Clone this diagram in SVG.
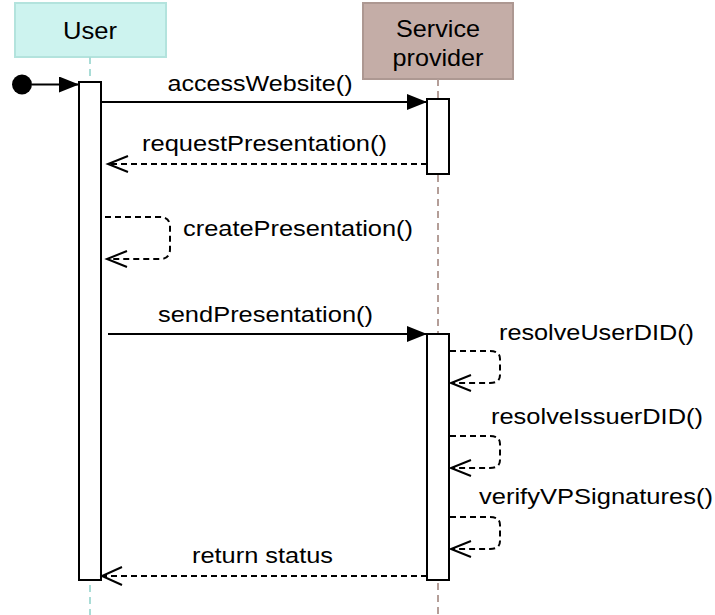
<svg xmlns="http://www.w3.org/2000/svg" width="715" height="615" viewBox="0 0 715 615">
<style>
text{font-family:"Liberation Sans",Arial,sans-serif;fill:#000}
.hdr{font-size:24px;text-anchor:middle}
.lbl{font-size:22px}
.mid{text-anchor:middle}
.bar{fill:#fff;stroke:#000;stroke-width:2}
.ln{fill:none;stroke:#000;stroke-width:2}
.dash{fill:none;stroke:#000;stroke-width:2;stroke-dasharray:6 4}
.open{fill:none;stroke:#000;stroke-width:2}
</style>
<defs>
<marker id="filled" viewBox="0 0 20 16" refX="20" refY="8" markerWidth="20" markerHeight="16" markerUnits="userSpaceOnUse" orient="auto">
<path d="M0,0 L20,8 L0,16 Z" fill="#000"/>
</marker>
</defs>
<g id="user">
<rect x="15" y="3" width="151" height="54" fill="#cdf3ef" stroke="#b3e3dd" stroke-width="2"/>
<text class="hdr" x="90" y="39" textLength="54" lengthAdjust="spacingAndGlyphs">User</text>
<line x1="90" y1="57" x2="90" y2="615" stroke="#a9dcd6" stroke-width="2" stroke-dasharray="7 5"/>
</g>
<g id="service-provider">
<rect x="363" y="3" width="150" height="76" fill="#c4ada7" stroke="#ad9892" stroke-width="2"/>
<text class="hdr" x="438" y="36.5" textLength="84" lengthAdjust="spacingAndGlyphs">Service</text>
<text class="hdr" x="438" y="66" textLength="91" lengthAdjust="spacingAndGlyphs">provider</text>
<line x1="438" y1="79" x2="438" y2="615" stroke="#b49e98" stroke-width="2" stroke-dasharray="7 5"/>
</g>
<g id="activations">
<rect class="bar" x="79" y="82" width="22" height="498"/>
<rect class="bar" x="427" y="99" width="22" height="75"/>
<rect class="bar" x="427" y="334" width="22" height="246"/>
</g>
<g id="start">
<circle cx="22" cy="84.5" r="10" fill="#000"/>
</g>
<g id="connectors">
<line class="ln" x1="32" y1="84.5" x2="79" y2="84.5" marker-end="url(#filled)"/>
<line class="ln" x1="101" y1="102" x2="427" y2="102" marker-end="url(#filled)"/>
<line class="dash" x1="427" y1="164" x2="110" y2="164"/>
<path class="open" d="M128,156 L108,164 L128,172"/>
<path class="dash" d="M105,217 L160,217 Q170,217 170,227 L170,249 Q170,259 160,259 L109,259"/>
<path class="open" d="M127,251 L107,259 L127,267"/>
<line class="ln" x1="108" y1="334" x2="427" y2="334" marker-end="url(#filled)"/>
<path class="dash" d="M450,351 L490,351 Q500,351 500,359 L500,375 Q500,383 490,383 L453,383"/>
<path class="open" d="M471,375 L451,383 L471,391"/>
<path class="dash" d="M450,436 L490,436 Q500,436 500,444 L500,460 Q500,468 490,468 L453,468"/>
<path class="open" d="M471,460 L451,468 L471,476"/>
<path class="dash" d="M450,517 L490,517 Q500,517 500,525 L500,541 Q500,549 490,549 L453,549"/>
<path class="open" d="M471,541 L451,549 L471,557"/>
<line class="dash" x1="427" y1="576" x2="104" y2="576"/>
<path class="open" d="M122,567 L102,576 L122,585"/>
</g>
<g id="labels">
<text class="lbl mid" x="260" y="91" textLength="185" lengthAdjust="spacingAndGlyphs">accessWebsite()</text>
<text class="lbl mid" x="264.5" y="151" textLength="245" lengthAdjust="spacingAndGlyphs">requestPresentation()</text>
<text class="lbl" x="183" y="236" textLength="230" lengthAdjust="spacingAndGlyphs">createPresentation()</text>
<text class="lbl mid" x="265.5" y="322" textLength="215" lengthAdjust="spacingAndGlyphs">sendPresentation()</text>
<text class="lbl" x="499" y="340" textLength="195" lengthAdjust="spacingAndGlyphs">resolveUserDID()</text>
<text class="lbl" x="491" y="424" textLength="212" lengthAdjust="spacingAndGlyphs">resolveIssuerDID()</text>
<text class="lbl" x="479" y="504" textLength="234" lengthAdjust="spacingAndGlyphs">verifyVPSignatures()</text>
<text class="lbl mid" x="262.5" y="563" textLength="141" lengthAdjust="spacingAndGlyphs">return status</text>
</g>
</svg>
